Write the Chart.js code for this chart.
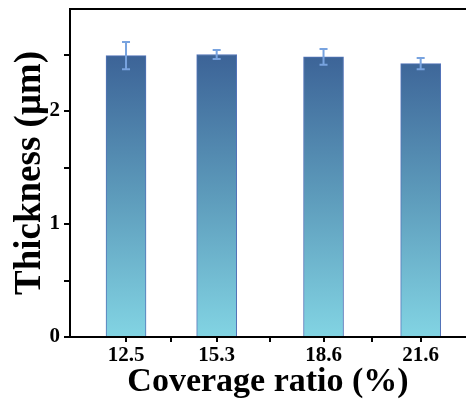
<!DOCTYPE html>
<html>
<head>
<meta charset="utf-8">
<script src="https://cdn.jsdelivr.net/npm/chart.js@4"></script>
<style>
  html, body { margin: 0; padding: 0; background: #fff; overflow: hidden; }
  #wrap { width: 466px; height: 403px; }
</style>
</head>
<body>
<div id="wrap"><canvas id="mychart"></canvas></div>
<script>
'use strict';

// coverage ratio (%) and film thickness (um) with error bars
var coverage = [12.5, 15.3, 18.6, 21.6];
var thickness = [2.49, 2.50, 2.48, 2.42];
var thicknessErr = [0.12, 0.04, 0.07, 0.05];
var yTicks = [0, 0.5, 1, 1.5, 2, 2.5];
var yLabels = ['0', '', '1', '', '2', ''];

var serif = 'Liberation Serif, Times New Roman, serif';

// x ticks: data values plus minor ticks half way between
var xTicks = [];
coverage.forEach(function(v, i) {
    if (i > 0) xTicks.push({ value: (coverage[i - 1] + v) / 2, minor: true });
    xTicks.push({ value: v });
});

var frame = {
    id: 'frame',
    afterDraw: function(chart) {
        var a = chart.chartArea, ctx = chart.ctx;
        ctx.save();
        ctx.strokeStyle = '#000';
        ctx.lineWidth = 2;
        ctx.beginPath();
        ctx.moveTo(a.left - 1, a.top);
        ctx.lineTo(a.right + 2, a.top);
        ctx.stroke();
        ctx.restore();
    }
};

var errorBars = {
    id: 'errorBars',
    afterDatasetsDraw: function(chart) {
        var ctx = chart.ctx, ys = chart.scales.y;
        var meta = chart.getDatasetMeta(0);
        ctx.save();
        ctx.strokeStyle = '#78a3df';
        ctx.lineWidth = 2;
        meta.data.forEach(function(bar, i) {
            var hi = ys.getPixelForValue(thickness[i] + thicknessErr[i]);
            var lo = ys.getPixelForValue(thickness[i] - thicknessErr[i]);
            var x = bar.x;
            ctx.beginPath();
            ctx.moveTo(x, hi); ctx.lineTo(x, lo);
            ctx.moveTo(x - 4, hi); ctx.lineTo(x + 4, hi);
            ctx.moveTo(x - 4, lo); ctx.lineTo(x + 4, lo);
            ctx.stroke();
        });
        ctx.restore();
    }
};

function barFill(context) {
    var chart = context.chart, a = chart.chartArea;
    if (!a) return '#5f9fbd';
    var ys = chart.scales.y;
    var g = chart.ctx.createLinearGradient(0, ys.getPixelForValue(2.5), 0, a.bottom);
    g.addColorStop(0, '#3c6397');
    g.addColorStop(0.5, '#5d9bbb');
    g.addColorStop(1, '#82d4e3');
    return g;
}

new Chart(document.getElementById('mychart'), {
    type: 'bar',
    data: {
        datasets: [{
            data: coverage.map(function(c, i) { return { x: c, y: thickness[i] }; }),
            backgroundColor: barFill,
            borderColor: '#5273b8',
            borderWidth: 1,
            barThickness: 40,
        }],
    },
    options: {
        responsive: true,
        maintainAspectRatio: false,
        animation: false,
        layout: { padding: { top: 9, right: 0, left: 0, bottom: 0 } },
        plugins: { legend: { display: false }, tooltip: { enabled: false } },
        scales: {
            x: {
                type: 'linear',
                offset: false,
                min: 10.77,
                max: 23.0,
                afterBuildTicks: function(scale) { scale.ticks = xTicks.slice(); },
                afterFit: function(scale) {
                    scale.height = 66;
                    scale.paddingLeft = 0;
                    scale.paddingRight = 0;
                },
                grid: { drawOnChartArea: false, offset: false, tickLength: 5, color: '#000', lineWidth: 2 },
                border: { color: '#000', width: 2 },
                ticks: {
                    autoSkip: false,
                    maxRotation: 0,
                    padding: 1,
                    color: '#000',
                    font: { family: serif, size: 21, weight: 'bold' },
                    callback: function(v, i, ticks) { return ticks[i].minor ? '' : String(v); },
                },
                title: {
                    display: true,
                    text: 'Coverage ratio (%)',
                    color: '#000',
                    font: { family: serif, size: 34, weight: 'bold' },
                    padding: { top: 0, bottom: 0 },
                },
            },
            y: {
                min: 0,
                max: 2.903,
                afterBuildTicks: function(scale) {
                    scale.ticks = yTicks.map(function(v) { return { value: v }; });
                },
                afterFit: function(scale) {
                    scale.width = 70;
                    scale.paddingTop = 0;
                    scale.paddingBottom = 0;
                },
                grid: { drawOnChartArea: false, tickLength: 6, color: '#000', lineWidth: 2 },
                border: { color: '#000', width: 2 },
                ticks: {
                    padding: 4,
                    color: '#000',
                    font: { family: serif, size: 21, weight: 'bold' },
                    callback: function(v, i) { return yLabels[i]; },
                },
                title: {
                    display: true,
                    text: 'Thickness (μm)',
                    color: '#000',
                    font: { family: serif, size: 37, weight: 'bold' },
                    padding: { top: 8, bottom: 0 },
                },
            },
        },
    },
    plugins: [frame, errorBars],
});
</script>
</body>
</html>
